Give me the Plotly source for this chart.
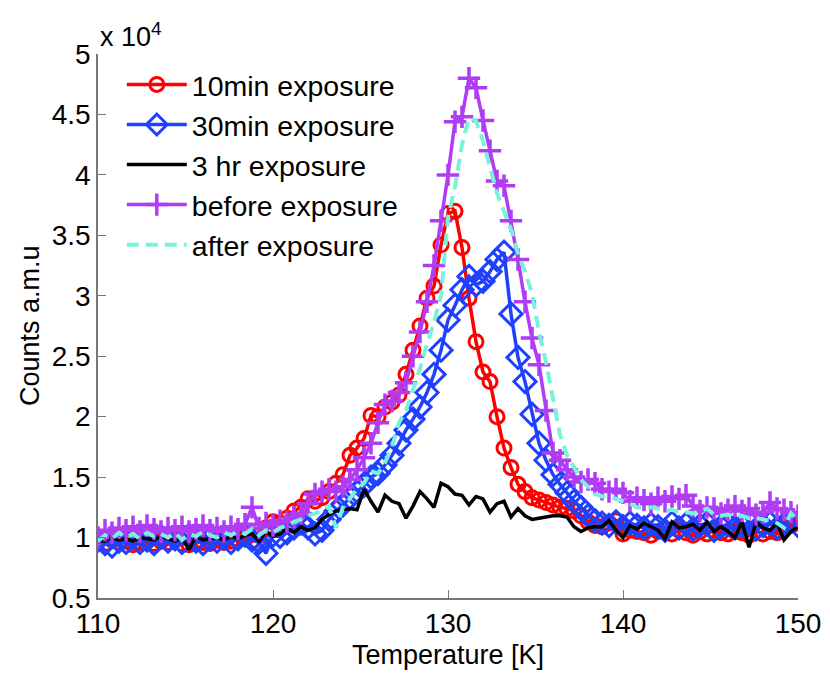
import plotly.graph_objects as go

# temperature grid [K], one sample every 0.4 K
temperature = [round(110 + 0.4 * i, 1) for i in range(101)]

# counts in units of 1e4
exp_10min = [0.97, 0.95, 0.98, 0.96, 0.97, 0.94, 0.96, 0.98, 0.95, 0.97,
             0.96, 0.98, 0.95, 0.94, 0.97, 0.96, 0.95, 0.98, 0.96, 0.97,
             0.98, 0.99, 0.97, 1.02, 1.08, 1.13, 1.12, 1.16, 1.22, 1.25,
             1.32, 1.30, 1.33, 1.38, 1.45, 1.52, 1.68, 1.74, 1.82, 2.01,
             2.00, 2.08, 2.12, 2.18, 2.35, 2.55, 2.75, 2.98, 3.08, 3.42,
             3.68, 3.70, 3.40, 2.98, 2.62, 2.37, 2.29, 2.00, 1.74, 1.58,
             1.44, 1.38, 1.33, 1.31, 1.29, 1.27, 1.25, 1.24, 1.22, 1.18,
             1.13, 1.10, 1.09, 1.12, 1.14, 1.03, 1.06, 1.05, 1.04, 1.02,
             1.05, 1.07, 1.03, 1.06, 1.04, 1.02, 1.05, 1.03, 1.06, 1.04,
             1.03, 1.05, 1.04, 1.02, 1.06, 1.03, 1.05, 1.04, 1.07, 1.10,
             1.12]

exp_30min = [0.98, 0.95, 0.93, 0.97, 0.96, 1.00, 0.96, 0.98, 0.95, 1.01,
             0.97, 0.99, 0.96, 1.02, 0.97, 0.95, 0.99, 0.97, 1.00, 0.96,
             0.99, 1.02, 0.98, 0.96, 0.87, 1.02, 1.01, 1.04, 1.08, 1.12,
             1.08, 1.03, 1.06, 1.15, 1.22, 1.27, 1.33, 1.38, 1.43, 1.50,
             1.53, 1.60, 1.68, 1.78, 1.89, 1.98, 2.08, 2.20, 2.35, 2.55,
             2.80, 2.92, 3.05, 3.16, 3.09, 3.12, 3.20, 3.30, 3.36, 2.85,
             2.49, 2.29, 2.02, 1.78, 1.64, 1.52, 1.44, 1.37, 1.30, 1.25,
             1.18, 1.14, 1.12, 1.10, 1.13, 1.09, 1.12, 1.10, 1.08, 1.11,
             1.09, 1.06, 1.12, 1.08, 1.11, 1.07, 1.10, 1.12, 1.06, 1.09,
             1.11, 1.08, 1.10, 1.13, 1.07, 1.10, 1.12, 1.08, 1.11, 1.14,
             1.10]

exp_3hr = [0.98, 0.97, 1.00, 0.98, 0.99, 0.97, 1.00, 0.99, 0.98, 1.01,
           0.99, 0.97, 1.00, 0.90, 1.01, 0.98, 0.99, 1.00, 0.98, 1.01,
           0.99, 1.02, 1.03, 0.97, 1.05, 1.01, 1.03, 1.08, 1.04, 1.09,
           1.06, 1.08, 1.15, 1.19, 1.22, 1.23, 1.24, 1.23, 1.40, 1.30,
           1.21, 1.35, 1.30, 1.28, 1.16, 1.26, 1.38, 1.32, 1.25, 1.45,
           1.42, 1.36, 1.35, 1.27, 1.34, 1.32, 1.21, 1.28, 1.30, 1.17,
           1.24, 1.18, 1.15, 1.16, 1.17, 1.18, 1.18, 1.17, 1.09, 1.05,
           1.08, 1.09, 1.09, 1.14, 1.06, 1.00, 1.10, 1.07, 1.12, 1.09,
           1.06, 0.99, 1.13, 1.08, 1.09, 1.11, 1.06, 1.13, 1.05, 1.09,
           1.05, 1.00, 1.13, 0.92, 1.13, 1.08, 1.06, 1.12, 0.98, 1.05,
           1.09]

before = [1.00, 1.06, 1.04, 1.08, 1.06, 1.09, 1.05, 1.10, 1.07, 1.05,
          1.08, 1.06, 1.09, 1.05, 1.07, 1.10, 1.06, 1.08, 1.05, 1.09,
          1.07, 1.11, 1.25, 1.08, 1.12, 1.10, 1.14, 1.13, 1.17, 1.20,
          1.28, 1.36, 1.38, 1.40, 1.38, 1.42, 1.48, 1.56, 1.66, 1.78,
          1.95, 2.10, 2.13, 2.20, 2.28, 2.50, 2.70, 2.95, 3.25, 3.62,
          4.00, 4.44, 4.48, 4.80, 4.72, 4.45, 4.20, 3.95, 3.91, 3.62,
          3.30, 2.95, 2.65, 2.43, 2.05, 1.70, 1.64, 1.56, 1.50, 1.46,
          1.48, 1.45, 1.40, 1.38, 1.40, 1.37, 1.30, 1.33, 1.31, 1.28,
          1.33, 1.30, 1.34, 1.32, 1.35, 1.26, 1.22, 1.25, 1.24, 1.20,
          1.23, 1.26, 1.22, 1.24, 1.19, 1.21, 1.29, 1.24, 1.23, 1.21,
          1.18]

after = [0.97, 1.02, 0.99, 1.04, 1.00, 1.03, 0.99, 1.04, 1.01, 1.03,
         1.00, 1.04, 0.98, 1.03, 1.01, 1.05, 1.02, 1.00, 1.04, 1.02,
         1.05, 1.03, 1.07, 1.02, 1.06, 1.04, 1.08, 1.10, 1.13, 1.15,
         1.18, 1.20, 1.22, 1.26, 1.08, 1.25, 1.32, 1.40, 1.45, 1.55,
         1.53, 1.62, 1.75, 1.95, 2.05, 2.22, 2.40, 2.60, 2.78, 3.00,
         3.65, 3.90, 4.25, 4.47, 4.45, 4.28, 4.05, 3.85, 3.70, 3.55,
         3.35, 3.20, 3.02, 2.70, 2.45, 2.15, 1.85, 1.68, 1.58, 1.48,
         1.42, 1.36, 1.34, 1.34, 1.32, 1.30, 1.28, 1.25, 1.24, 1.25,
         1.24, 1.22, 1.23, 1.21, 1.21, 1.20, 1.22, 1.24, 1.19, 1.18,
         1.19, 1.17, 1.18, 1.16, 1.16, 1.15, 1.14, 1.12, 1.08, 1.20,
         1.14]

x_ticks = [110, 120, 130, 140, 150]
y_ticks = [0.5, 1, 1.5, 2, 2.5, 3, 3.5, 4, 4.5, 5]
y_ticktext = ["0.5", "1", "1.5", "2", "2.5", "3", "3.5", "4", "4.5", "5"]

FONT = "Liberation Sans, Arial, Helvetica, sans-serif"

fig = go.Figure()

fig.add_trace(go.Scatter(x=temperature, y=exp_10min, name="10min exposure",
                         mode="lines+markers",
                         line=dict(color="#ff0000", width=3.5),
                         marker=dict(symbol="circle-open", size=14, color="#ff0000",
                                     line=dict(width=3))))
fig.add_trace(go.Scatter(x=temperature, y=exp_30min, name="30min exposure",
                         mode="lines+markers",
                         line=dict(color="#2040ff", width=3.5),
                         marker=dict(symbol="diamond-open", size=17, color="#2040ff",
                                     line=dict(width=3))))
fig.add_trace(go.Scatter(x=temperature, y=exp_3hr, name="3 hr exposure",
                         mode="lines",
                         line=dict(color="#000000", width=3.5)))
fig.add_trace(go.Scatter(x=temperature, y=before, name="before exposure",
                         mode="lines+markers",
                         line=dict(color="#b03cf5", width=3.5),
                         marker=dict(symbol="cross-thin-open", size=16, color="#b03cf5",
                                     line=dict(width=3.5))))
fig.add_trace(go.Scatter(x=temperature, y=after, name="after exposure",
                         mode="lines",
                         line=dict(color="#78f2da", width=4, dash="12px,7px")))

fig.update_layout(
    width=830, height=673,
    margin=dict(l=90, r=40, t=46, b=83),
    paper_bgcolor="white", plot_bgcolor="white",
    font=dict(family=FONT, size=28, color="black"),
    showlegend=True,
    legend=dict(x=0.034, y=0.99, xanchor="left", yanchor="top",
                bgcolor="rgba(0,0,0,0)", borderwidth=0,
                font=dict(family=FONT, size=28.5), tracegroupgap=0,
                itemwidth=60),
    xaxis=dict(range=[110, 150], tickvals=x_ticks, ticks="inside", ticklen=8,
               tickcolor="#777777", showline=True, linecolor="#777777", linewidth=1.5,
               showgrid=False, zeroline=False, mirror=False,
               ticklabelstandoff=0),
    yaxis=dict(range=[0.5, 5], tickvals=y_ticks, ticktext=y_ticktext, ticks="inside",
               ticklen=8, tickcolor="#777777", showline=True, linecolor="#777777",
               linewidth=1.5, showgrid=False, zeroline=False, mirror=False,
               ticklabelstandoff=0),
    annotations=[
        dict(text="Temperature [K]", xref="paper", yref="paper", x=0.5, y=0,
             xanchor="center", yanchor="middle", yshift=-57, showarrow=False,
             font=dict(size=27)),
        dict(text="Counts a.m.u", xref="paper", yref="paper", x=0, y=0.5,
             xanchor="center", yanchor="middle", xshift=-68, textangle=-90,
             showarrow=False, font=dict(size=27)),
        dict(text="x 10<sup>4</sup>", xref="paper", yref="paper", x=0, y=1,
             xanchor="left", yanchor="bottom", xshift=0, yshift=0,
             showarrow=False, font=dict(size=27)),
    ],
)

fig.write_html("out.html")
